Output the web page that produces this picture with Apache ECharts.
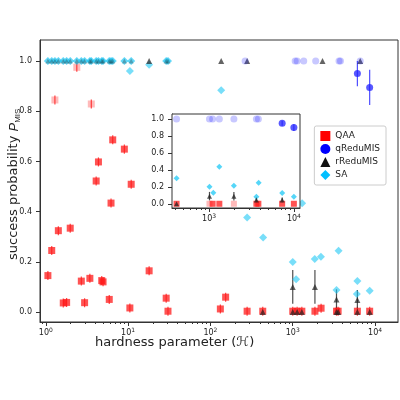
<!DOCTYPE html>
<html><head><meta charset="utf-8">
<script src="https://cdn.jsdelivr.net/npm/echarts@6/dist/echarts.min.js"></script>
<style>html,body{margin:0;background:#fff}#c{width:400px;height:400px}</style>
</head><body><div id="c"></div>
<script>
// main panel
var qaaX=[1.06,1.18,1.29,1.42,1.63,1.79,1.98,2.38,2.70,2.96,3.43,3.57,4.09,4.36,4.78,4.96,5.9,6.2,6.5,9.0,10.5,10.9,18,29,30.5,132,153,279,432,1000,1130,1290,1860,2210,3400,3560,6100,8600];
var qaaY=[0.145,0.245,0.845,0.324,0.036,0.038,0.334,0.975,0.123,0.037,0.134,0.829,0.522,0.598,0.125,0.12,0.05,0.434,0.686,0.649,0.016,0.509,0.164,0.055,0.003,0.012,0.059,0.003,0.003,0.003,0.003,0.003,0.003,0.015,0.003,0.003,0.003,0.003];
var qaaFaded=[2,7,11];
var topX=[1.06,1.18,1.29,1.42,1.63,1.79,1.98,2.38,2.70,2.96,3.43,3.57,4.09,4.36,4.78,4.96,5.9,6.2,6.5,9.0,10.9,29,30.5];
var saX=[10.5,18,135,1300,279,437,1000,1100,1850,2200,3600,3400,6100,6000,8600];
var saY=[0.96,0.985,0.884,0.433,0.377,0.297,0.199,0.13,0.211,0.22,0.244,0.088,0.123,0.072,0.085];
var rX=[18,135,279,2300,6600,432,1000,1130,1290,3400,3560,6100,8600,1000,1860,3400,6100];
var rY=[1,1,1,1,1,0,0,0,0,0,0,0,0,0.10,0.10,0.05,0.048];
var rErr=[0,0,0,0,0,0,0,0,0,0,0,0,0,0.067,0.067,0.04,0.04];
var qX=[264,1070,1130,1360,1900,3650,3800,6600,6100,8600];
var qY=[1,1,1,1,1,1,1,1,0.95,0.895];
var qErr=[0,0,0,0,0,0,0,0,0.05,0.07];
// inset panel
var inQX=[413,1010,1100,1320,1960,3610,3810,7270,9990];
var inQY=[1,1,1,1,1,1,1,0.95,0.9];
var inQErr=[0,0,0,0,0,0,0,0.03,0.04];
var inSAX=[413,1010,1120,1320,1960,3610,3840,7270,9990];
var inSAY=[0.30,0.20,0.13,0.437,0.213,0.083,0.248,0.126,0.083];
var inRX=[413,1010,1960,3610,7270];
var inRY=[0,0.09,0.09,0.045,0.045];
var inRErr=[0,0.05,0.05,0.03,0.03];
var inQaaX=[413,1010,1100,1320,1960,3610,3810,7270,9990];
var inQaaFaded=[1,4];

var RED='#ff1a1a',BLUE='#2222ff',BLK='#222222',CY='#1ec8f5';
function pts(xs,ys){return xs.map(function(x,i){return [x,ys[i]];});}
function sup(v){var e=Math.round(Math.log10(v));return '10{s|'+e+'}';}
function minors(a,b){var r=[];for(var p=a;p<=b;p++)for(var k=2;k<=9;k++)r.push(k*Math.pow(10,p));return r;}
function errSeries(xs,ys,es,color,xi,yi,z){
  return {type:'custom',xAxisIndex:xi,yAxisIndex:yi,silent:true,z:z,
    data:xs.map(function(x,i){return [x,ys[i],es[i]];}).filter(function(d){return d[2]>0;}),
    renderItem:function(p,api){var x=api.value(0),y=api.value(1),e=api.value(2);
      var a=api.coord([x,y-e]),b=api.coord([x,y+e]);
      return {type:'line',shape:{x1:a[0],y1:a[1],x2:b[0],y2:b[1]},style:{stroke:color,lineWidth:1.2,opacity:0.8}};}};
}
function sc(name,data,sym,color,size,xi,yi,op,z){
  return {name:name,type:'scatter',xAxisIndex:xi,yAxisIndex:yi,data:data,symbol:sym,symbolSize:size,
    itemStyle:{color:color,opacity:op==null?0.75:op},z:z||2};
}
var tickLab={fontSize:8,color:'#222',rich:{s:{fontSize:6,verticalAlign:'top',padding:[0,0,5,0]}}};
function xAx(gi,min,max,lo,hi,labels){
  return [{type:'log',gridIndex:gi,min:min,max:max,logBase:10,position:'bottom',
    axisLine:{onZero:false,lineStyle:{color:'#333'}},splitLine:{show:false},
    axisTick:{customValues:labels,length:4,lineStyle:{color:'#333'}},
    axisLabel:Object.assign({customValues:labels,formatter:sup,margin:5},tickLab)},
   {type:'log',gridIndex:gi,min:min,max:max,logBase:10,position:'bottom',
    axisLine:{show:false,onZero:false},splitLine:{show:false},
    axisTick:{customValues:minors(lo,hi).filter(function(v){return v>min&&v<max;}),length:2,lineStyle:{color:'#333'}},
    axisLabel:{show:false}}];
}
function yAx(gi,min,max){
  var v=[0,0.2,0.4,0.6,0.8,1.0];
  return {type:'value',gridIndex:gi,min:min,max:max,
    axisLine:{show:true,lineStyle:{color:'#333'}},splitLine:{show:false},
    axisTick:{show:true,customValues:v,length:4,lineStyle:{color:'#333'}},
    axisLabel:Object.assign({customValues:v,formatter:function(x){return x.toFixed(1);}},tickLab)};
}
var xs=xAx(0,0.85,19000,-1,4,[1,10,100,1000,10000]).concat(xAx(1,365,11800,2,4,[1000,10000]));
var qaaData=pts(qaaX,qaaY).map(function(d,i){return qaaFaded.indexOf(i)>=0?{value:d,itemStyle:{opacity:0.3}}:d;});
var inQaa=inQaaX.map(function(x,i){return inQaaFaded.indexOf(i)>=0?{value:[x,0],itemStyle:{opacity:0.3}}:[x,0];});
var fadeQ=function(xsA,ysA,n){return pts(xsA,ysA).map(function(d,i){return i<n?{value:d,itemStyle:{opacity:0.25}}:d;});};
var qaaErr=qaaY.map(function(){return 0.018;});
var option={
  animation:false,
  textStyle:{fontFamily:'DejaVu Sans'},
  grid:[{left:40,right:2,top:40,bottom:78,show:true,borderColor:'#333',backgroundColor:'transparent'},
        {left:172,width:128,top:114,height:94,show:true,borderColor:'#333',backgroundColor:'#fff',z:5}],
  xAxis:xs,
  yAxis:[yAx(0,-0.04,1.084),yAx(1,-0.05,1.06)],
  legend:{right:14,top:126,orient:'vertical',itemGap:3,itemWidth:10,itemHeight:10,
    backgroundColor:'#fff',borderColor:'#ccc',borderWidth:1,borderRadius:2,padding:[5,6,5,6],
    textStyle:{fontSize:9,color:'#222'},
    data:[{name:'QAA',icon:'rect',itemStyle:{color:'#ff0000',opacity:1}},{name:'qReduMIS',icon:'circle',itemStyle:{color:'#0000ff',opacity:1}},
          {name:'rReduMIS',icon:'triangle',itemStyle:{color:'#111',opacity:1}},{name:'SA',icon:'diamond',itemStyle:{color:'#00bfff',opacity:1}}]},
  graphic:[
    {type:'text',left:95,top:336,style:{text:'hardness parameter (ℋ)',fontSize:13,fill:'#222',fontFamily:'DejaVu Sans'}},
    {type:'text',x:6,y:260,rotation:Math.PI/2,z:10,
     style:{text:'success probability {i|P}{s|MIS}',fontSize:13,fill:'#222',fontFamily:'DejaVu Sans',
       rich:{i:{fontSize:13,fontStyle:'italic',fill:'#222'},s:{fontSize:8,fill:'#222',padding:[8,0,0,0]}}}}
  ],
  series:[
    errSeries(qaaX,qaaY,qaaErr,RED,0,0,1),
    sc('QAA',qaaData,'rect',RED,7,0,0),
    sc('SA',pts(topX,topX.map(function(){return 1;})),'diamond',CY,8,0,0,0.7),
    sc('SA',pts(saX,saY),'diamond',CY,8,0,0,0.6),
    errSeries(rX,rY,rErr,BLK,0,0,1),
    sc('rReduMIS',pts(topX,topX.map(function(){return 1;})),'triangle',BLK,5,0,0,0.3),
    sc('rReduMIS',pts(rX,rY),'triangle',BLK,6,0,0,0.7),
    errSeries(qX,qY,qErr,BLUE,0,0,1),
    sc('qReduMIS',fadeQ(qX,qY,8),'circle',BLUE,7,0,0),
    // inset
    errSeries(inQX,inQY,inQErr,BLUE,2,1,10),
    sc('qReduMIS',fadeQ(inQX,inQY,7),'circle',BLUE,7,2,1,0.75,11),
    sc('SA',pts(inSAX,inSAY),'diamond',CY,6,2,1,0.75,11),
    errSeries(inRX,inRY,inRErr,BLK,2,1,10),
    sc('QAA',inQaa,'rect',RED,6,2,1,0.75,11),
    sc('rReduMIS',pts(inRX,inRY),'triangle',BLK,5,2,1,0.75,12)
  ]
};
var chart=echarts.init(document.getElementById('c'));
chart.setOption(option);
</script></body></html>
